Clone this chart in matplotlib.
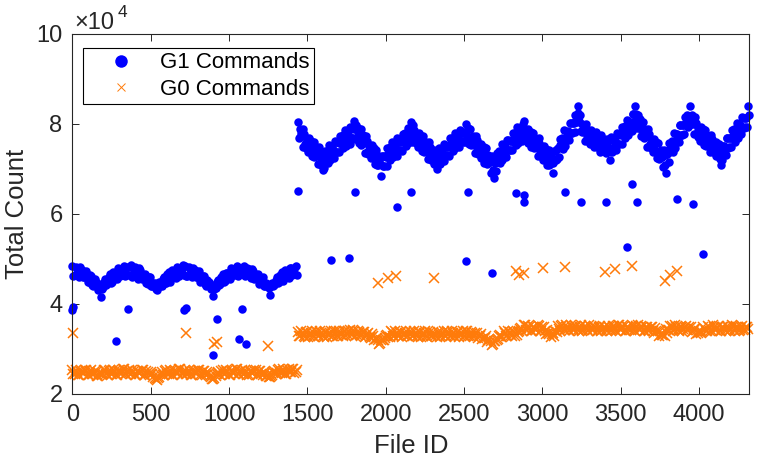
import numpy as np
import matplotlib
matplotlib.use('Agg')
import matplotlib.pyplot as plt
from matplotlib.lines import Line2D

# values are in units of 1e4 commands
# two interleaved sample sets per segment (a: on the grid, b: half a step later)
g1_low_ids = np.arange(0, 1440, 15)
g1_low = [4.85, 4.64, 4.77, 4.59, 4.76, 4.60, 4.74, 4.50, 4.62, 4.40, 4.50, 4.32,
          4.16, 4.37, 4.55, 4.46, 4.67, 4.50, 4.69, 4.55, 4.77, 4.66, 4.85, 4.66,
          4.65, 4.86, 4.66, 4.78, 4.56, 4.75, 4.58, 4.67, 4.45, 4.60, 4.39, 4.46,
          4.31, 4.48, 4.41, 4.60, 4.47, 4.72, 4.58, 4.74, 4.57, 4.81, 4.69, 4.86,
          4.85, 4.63, 4.77, 4.60, 4.76, 4.61, 4.73, 4.51, 4.63, 4.41, 4.49, 4.33,
          4.18, 4.36, 4.54, 4.45, 4.66, 4.51, 4.70, 4.56, 4.78, 4.65, 4.84, 4.67,
          4.66, 4.85, 4.67, 4.77, 4.57, 4.74, 4.59, 4.66, 4.46, 4.59, 4.40, 4.45,
          4.19, 4.47, 4.42, 4.59, 4.48, 4.71, 4.59, 4.74, 4.58, 4.80, 4.70, 4.85]
g1_low_b_ids = np.arange(7, 1440, 15)
g1_low_b = [4.63, 4.82, 4.68, 4.82, 4.60, 4.69, 4.48, 4.64, 4.43, 4.55, 4.40, 4.44,
            4.33, 4.49, 4.42, 4.61, 4.47, 4.71, 4.62, 4.80, 4.63, 4.77, 4.62, 4.82,
            4.82, 4.61, 4.82, 4.65, 4.79, 4.55, 4.64, 4.46, 4.59, 4.39, 4.47, 4.34,
            4.43, 4.39, 4.55, 4.46, 4.66, 4.50, 4.76, 4.63, 4.82, 4.63, 4.77, 4.64,
            4.62, 4.83, 4.67, 4.81, 4.61, 4.70, 4.49, 4.63, 4.44, 4.54, 4.41, 4.43,
            4.34, 4.48, 4.43, 4.60, 4.48, 4.70, 4.63, 4.79, 4.64, 4.76, 4.63, 4.81,
            4.81, 4.62, 4.81, 4.66, 4.78, 4.56, 4.65, 4.45, 4.58, 4.40, 4.46, 4.35,
            4.42, 4.40, 4.54, 4.47, 4.65, 4.51, 4.75, 4.64, 4.81, 4.64, 4.78, 4.65]

g1_high_ids = np.arange(1440, 4320, 10)
g1_high = [8.05, 7.72, 7.80, 7.50, 7.77, 7.46, 7.57, 7.68, 7.43, 7.28,
           7.61, 7.30, 7.40, 7.11, 7.40, 7.10, 6.97, 7.39, 7.22, 7.13,
           7.54, 7.30, 7.46, 7.25, 7.60, 7.38, 7.57, 7.74, 7.56, 7.47,
           7.87, 7.62, 7.78, 7.56, 7.91, 7.68, 8.07, 7.98, 7.73, 7.57,
           7.89, 7.57, 7.65, 7.36, 7.63, 7.33, 7.44, 7.53, 7.27, 7.11,
           7.43, 7.10, 7.18, 6.85, 7.28, 7.07, 7.27, 7.46, 7.30, 7.21,
           7.61, 7.36, 7.52, 7.30, 7.65, 7.42, 7.61, 7.78, 7.60, 7.51,
           7.92, 7.67, 8.04, 7.59, 7.87, 7.57, 7.69, 7.80, 7.55, 7.39,
           7.73, 7.41, 7.50, 7.22, 7.50, 7.20, 7.32, 7.42, 7.17, 7.00,
           7.46, 7.22, 7.39, 7.18, 7.54, 7.31, 7.50, 7.68, 7.50, 7.41,
           7.81, 7.55, 7.71, 7.49, 7.84, 7.60, 7.79, 8.00, 7.73, 7.56,
           7.89, 7.56, 7.65, 7.36, 7.64, 7.33, 7.45, 7.55, 7.30, 7.13,
           7.46, 7.13, 7.22, 6.92, 7.20, 6.81, 7.16, 7.36, 7.20, 7.13,
           7.55, 7.31, 7.48, 7.27, 7.64, 7.42, 7.62, 7.79, 7.61, 7.53,
           7.93, 7.68, 7.84, 7.63, 8.07, 7.66, 7.78, 7.89, 7.64, 7.48,
           7.81, 7.50, 7.59, 7.30, 7.58, 7.28, 7.40, 7.51, 7.26, 7.10,
           7.43, 7.11, 7.20, 6.91, 7.41, 7.23, 7.46, 7.66, 7.51, 7.45,
           7.87, 7.65, 7.84, 7.65, 8.02, 7.81, 8.02, 8.21, 8.05, 8.41,
           8.20, 7.82, 7.90, 7.62, 7.91, 7.62, 7.75, 7.86, 7.62, 7.48,
           7.83, 7.54, 7.65, 7.38, 7.68, 7.41, 7.55, 7.67, 7.45, 7.20,
           7.72, 7.47, 7.64, 7.43, 7.78, 7.56, 7.76, 7.94, 7.77, 7.69,
           8.10, 7.87, 8.05, 7.85, 8.22, 8.41, 8.11, 8.19, 7.92, 7.74,
           8.05, 7.72, 7.80, 7.50, 7.77, 7.46, 7.57, 7.66, 7.41, 7.25,
           7.57, 7.25, 7.34, 7.04, 7.32, 6.92, 7.36, 7.57, 7.43, 7.38,
           7.81, 7.59, 7.78, 7.59, 7.97, 7.76, 7.97, 8.16, 8.00, 7.93,
           8.41, 8.01, 8.08, 7.77, 8.03, 7.71, 7.83, 7.94, 7.69, 7.54,
           7.87, 7.56, 7.65, 7.37, 7.66, 7.37, 7.50, 7.61, 7.37, 7.22,
           7.08, 7.33, 7.51, 7.32, 7.69, 7.48, 7.68, 7.86, 7.69, 7.61,
           8.03, 7.79, 7.97, 7.77, 8.14, 7.93, 8.14, 8.40]
g1_high_b_ids = np.arange(1445, 4320, 10)
g1_high_b = [7.70, 7.90, 7.73, 7.88, 7.55, 7.67, 7.37, 7.56, 7.62, 7.39,
             7.26, 7.48, 7.33, 7.49, 7.18, 7.31, 7.02, 7.27, 7.41, 7.24,
             7.19, 7.48, 7.39, 7.63, 7.38, 7.59, 7.37, 7.62, 7.75, 7.58,
             7.52, 7.80, 7.71, 7.94, 7.69, 7.89, 7.67, 7.86, 7.92, 7.68,
             7.54, 7.75, 7.58, 7.74, 7.41, 7.54, 7.24, 7.41, 7.46, 7.22,
             7.08, 7.28, 7.11, 7.29, 7.06, 7.28, 7.07, 7.34, 7.49, 7.32,
             7.26, 7.54, 7.45, 7.68, 7.43, 7.63, 7.41, 7.66, 7.79, 7.62,
             7.57, 7.85, 7.76, 7.97, 7.65, 7.78, 7.49, 7.68, 7.74, 7.50,
             7.38, 7.59, 7.43, 7.60, 7.28, 7.41, 7.12, 7.30, 7.36, 7.15,
             7.11, 7.40, 7.32, 7.56, 7.32, 7.52, 7.30, 7.56, 7.69, 7.52,
             7.46, 7.73, 7.64, 7.87, 7.62, 7.81, 7.59, 7.83, 7.92, 7.67,
             7.54, 7.74, 7.58, 7.74, 7.42, 7.54, 7.25, 7.43, 7.49, 7.24,
             7.11, 7.31, 7.15, 7.30, 6.98, 7.14, 6.96, 7.24, 7.39, 7.24,
             7.20, 7.49, 7.41, 7.65, 7.42, 7.63, 7.42, 7.67, 7.80, 7.64,
             7.58, 7.86, 7.77, 8.01, 7.74, 7.87, 7.58, 7.77, 7.83, 7.59,
             7.46, 7.68, 7.52, 7.68, 7.36, 7.49, 7.20, 7.39, 7.45, 7.21,
             7.08, 7.29, 7.13, 7.40, 7.19, 7.44, 7.26, 7.54, 7.70, 7.56,
             7.52, 7.83, 7.77, 8.03, 7.80, 8.02, 7.82, 8.09, 8.24, 8.07,
             7.85, 8.00, 7.83, 8.00, 7.69, 7.83, 7.55, 7.74, 7.81, 7.59,
             7.48, 7.72, 7.58, 7.76, 7.46, 7.62, 7.35, 7.55, 7.64, 7.42,
             7.37, 7.65, 7.57, 7.81, 7.56, 7.77, 7.56, 7.82, 7.96, 7.80,
             7.75, 8.05, 7.98, 8.23, 8.00, 8.22, 7.91, 8.07, 8.11, 7.85,
             7.70, 7.90, 7.73, 7.88, 7.55, 7.67, 7.37, 7.54, 7.60, 7.36,
             7.22, 7.43, 7.27, 7.42, 7.10, 7.34, 7.16, 7.45, 7.62, 7.49,
             7.46, 7.77, 7.71, 7.97, 7.75, 7.97, 7.77, 8.04, 8.19, 8.04,
             8.00, 8.19, 8.01, 8.15, 7.81, 7.92, 7.63, 7.82, 7.88, 7.65,
             7.52, 7.74, 7.58, 7.75, 7.44, 7.58, 7.30, 7.49, 7.56, 7.33,
             7.21, 7.51, 7.44, 7.70, 7.47, 7.69, 7.48, 7.74, 7.88, 7.72,
             7.68, 7.97, 7.90, 8.15, 7.92, 8.14, 7.94, 8.19]

g1_out_ids = [0, 6, 279, 358, 712, 725, 900, 925, 1064, 1080, 1108, 1442, 1650,
              1764, 1804, 2070, 2161, 2510, 2522, 2678, 2831, 2882, 2882, 3145,
              3243, 3403, 3541, 3571, 3603, 3856, 3962, 4026]
g1_out = [3.87, 3.93, 3.18, 3.88, 3.87, 3.92, 2.87, 3.66, 3.22, 3.88, 3.11, 6.51,
          4.98, 5.02, 6.48, 6.16, 6.49, 4.96, 6.49, 4.68, 6.47, 6.42, 6.26, 6.48,
          6.26, 6.26, 5.26, 6.67, 6.26, 6.33, 6.23, 5.12]

g0_low_ids = np.arange(0, 1440, 15)
g0_low = [2.53, 2.44, 2.50, 2.42, 2.52, 2.46, 2.54, 2.43,
          2.53, 2.44, 2.49, 2.40, 2.45, 2.44, 2.53, 2.43,
          2.54, 2.45, 2.51, 2.42, 2.53, 2.47, 2.55, 2.44,
          2.54, 2.45, 2.50, 2.43, 2.52, 2.46, 2.54, 2.43,
          2.50, 2.42, 2.45, 2.36, 2.31, 2.38, 2.48, 2.42,
          2.53, 2.45, 2.51, 2.42, 2.52, 2.47, 2.55, 2.44,
          2.54, 2.45, 2.50, 2.43, 2.52, 2.46, 2.54, 2.43,
          2.51, 2.43, 2.47, 2.38, 2.33, 2.40, 2.49, 2.43,
          2.54, 2.45, 2.51, 2.42, 2.53, 2.47, 2.55, 2.44,
          2.54, 2.45, 2.50, 2.43, 2.52, 2.46, 2.54, 2.43,
          2.51, 2.42, 2.47, 2.39, 2.37, 2.43, 2.52, 2.46,
          2.55, 2.46, 2.52, 2.45, 2.55, 2.48, 2.56, 2.50]
g0_low_b_ids = np.arange(7, 1440, 15)
g0_low_b = [2.45, 2.53, 2.42, 2.51, 2.46, 2.54, 2.43, 2.52,
            2.44, 2.52, 2.41, 2.47, 2.42, 2.53, 2.44, 2.52,
            2.45, 2.53, 2.42, 2.51, 2.46, 2.55, 2.44, 2.52,
            2.45, 2.54, 2.42, 2.51, 2.46, 2.54, 2.43, 2.51,
            2.44, 2.48, 2.37, 2.33, 2.35, 2.44, 2.43, 2.52,
            2.45, 2.53, 2.42, 2.51, 2.46, 2.55, 2.44, 2.52,
            2.45, 2.53, 2.42, 2.51, 2.46, 2.54, 2.43, 2.51,
            2.44, 2.49, 2.40, 2.34, 2.36, 2.45, 2.44, 2.52,
            2.45, 2.53, 2.42, 2.51, 2.46, 2.55, 2.44, 2.52,
            2.45, 2.54, 2.42, 2.51, 2.46, 2.54, 2.43, 2.51,
            2.44, 2.49, 2.40, 2.38, 2.40, 2.50, 2.45, 2.53,
            2.47, 2.55, 2.44, 2.53, 2.48, 2.56, 2.46, 2.54]

g0_high_ids = np.arange(1440, 4320, 15)
g0_high = [3.38, 3.28, 3.36, 3.27, 3.37, 3.30, 3.39, 3.27,
           3.38, 3.28, 3.35, 3.26, 3.37, 3.31, 3.39, 3.28,
           3.39, 3.30, 3.37, 3.29, 3.40, 3.33, 3.42, 3.31,
           3.41, 3.32, 3.38, 3.28, 3.37, 3.30, 3.36, 3.25,
           3.30, 3.22, 3.20, 3.13, 3.19, 3.24, 3.32, 3.26,
           3.37, 3.29, 3.36, 3.28, 3.38, 3.31, 3.39, 3.28,
           3.38, 3.28, 3.35, 3.27, 3.37, 3.30, 3.39, 3.27,
           3.37, 3.28, 3.34, 3.26, 3.36, 3.30, 3.39, 3.28,
           3.38, 3.29, 3.35, 3.27, 3.38, 3.31, 3.40, 3.29,
           3.39, 3.30, 3.36, 3.27, 3.35, 3.28, 3.33, 3.24,
           3.28, 3.20, 3.18, 3.11, 3.17, 3.23, 3.31, 3.26,
           3.36, 3.29, 3.37, 3.30, 3.38, 3.31, 3.40,
           3.46, 3.53, 3.42, 3.51, 3.40, 3.50, 3.44, 3.53,
           3.41, 3.49, 3.40, 3.42, 3.34, 3.33, 3.29, 3.38,
           3.44, 3.52, 3.42, 3.53, 3.45, 3.54, 3.42, 3.52,
           3.43, 3.50, 3.41, 3.52, 3.45, 3.54, 3.42, 3.51,
           3.41, 3.49, 3.40, 3.48, 3.42, 3.52, 3.41, 3.51,
           3.43, 3.54, 3.44, 3.52, 3.41, 3.50, 3.43, 3.53,
           3.42, 3.51, 3.44, 3.52, 3.41, 3.49, 3.42, 3.50,
           3.40, 3.47, 3.39, 3.40, 3.32, 3.29, 3.35, 3.43,
           3.51, 3.42, 3.50, 3.41, 3.51, 3.44, 3.52, 3.42,
           3.49, 3.40, 3.44, 3.36, 3.38, 3.37, 3.45, 3.40,
           3.49, 3.41, 3.50, 3.43, 3.51, 3.41, 3.49, 3.40,
           3.48, 3.42, 3.51, 3.41, 3.50, 3.43, 3.52, 3.42,
           3.49]
g0_high_b_ids = np.arange(1447, 4320, 15)
g0_high_b = [3.28, 3.39, 3.30, 3.38, 3.27, 3.36, 3.29, 3.40,
             3.28, 3.39, 3.30, 3.38, 3.27, 3.36, 3.30, 3.41,
             3.29, 3.40, 3.32, 3.40, 3.30, 3.39, 3.33, 3.42,
             3.30, 3.40, 3.31, 3.38, 3.27, 3.34, 3.27, 3.33,
             3.20, 3.25, 3.12, 3.20, 3.20, 3.30, 3.27, 3.39,
             3.28, 3.39, 3.30, 3.38, 3.27, 3.36, 3.29, 3.40,
             3.28, 3.39, 3.30, 3.38, 3.27, 3.36, 3.29, 3.40,
             3.28, 3.38, 3.30, 3.38, 3.27, 3.36, 3.29, 3.40,
             3.28, 3.39, 3.30, 3.38, 3.27, 3.36, 3.29, 3.40,
             3.28, 3.38, 3.29, 3.36, 3.25, 3.30, 3.22, 3.24,
             3.15, 3.22, 3.10, 3.18, 3.20, 3.30, 3.27, 3.39,
             3.29, 3.39, 3.31, 3.39, 3.28, 3.37,
             3.45, 3.41, 3.53, 3.43, 3.50, 3.40, 3.49, 3.42,
             3.51, 3.41, 3.48, 3.33, 3.36, 3.27, 3.35, 3.40,
             3.51, 3.41, 3.53, 3.43, 3.50, 3.40, 3.49, 3.42,
             3.51, 3.41, 3.53, 3.43, 3.50, 3.40, 3.49, 3.42,
             3.50, 3.40, 3.52, 3.42, 3.49, 3.40, 3.49, 3.42,
             3.51, 3.41, 3.53, 3.43, 3.50, 3.40, 3.49, 3.42,
             3.51, 3.41, 3.53, 3.43, 3.50, 3.40, 3.48, 3.41,
             3.49, 3.36, 3.41, 3.28, 3.34, 3.32, 3.45, 3.42,
             3.51, 3.41, 3.53, 3.43, 3.50, 3.40, 3.49, 3.42,
             3.48, 3.37, 3.44, 3.33, 3.40, 3.36, 3.48, 3.41,
             3.51, 3.41, 3.53, 3.43, 3.50, 3.40, 3.49, 3.42,
             3.51, 3.41, 3.53, 3.43, 3.50, 3.40, 3.49, 3.42,
             3.50, 3.44]

g0_out_ids = [2, 725, 904, 921, 1251, 1953, 2012, 2065, 2308, 2831, 2852, 2882,
              3005, 3145, 3400, 3464, 3572, 3779, 3817, 3856]
g0_out = [3.35, 3.35, 3.11, 3.16, 3.07, 4.46, 4.57, 4.62, 4.57, 4.74, 4.64, 4.70,
          4.79, 4.82, 4.72, 4.77, 4.84, 4.51, 4.64, 4.74]

plt.rcParams['font.family'] = ['Liberation Sans', 'DejaVu Sans']
tc = '#262626'
blue = '#0000ff'
orange = '#ff7b0a'

W, H = 757, 468
fig = plt.figure(figsize=(W / 100, H / 100), dpi=100)
ax = fig.add_axes([72.3 / W, 1 - 394 / H, (749.3 - 72.3) / W, (394 - 34) / H])

g1_x = np.concatenate([g1_low_ids, g1_low_b_ids, g1_high_ids, g1_high_b_ids, g1_out_ids])
g1_y = np.concatenate([g1_low, g1_low_b, g1_high, g1_high_b, g1_out])
g0_x = np.concatenate([g0_low_ids, g0_low_b_ids, g0_high_ids, g0_high_b_ids, g0_out_ids])
g0_y = np.concatenate([g0_low, g0_low_b, g0_high, g0_high_b, g0_out])

ax.plot(g1_x, g1_y, 'o', ls='none', color=blue, ms=6.1, mew=0, clip_on=False)
ax.plot(g0_x, g0_y, 'x', ls='none', color=orange, ms=7.2, mew=1.1, clip_on=False)

ax.set_xlim(0, 4320)
ax.set_ylim(2, 10)
ax.set_xticks(np.arange(0, 4001, 500))
ax.set_yticks([2, 4, 6, 8, 10])
ax.set_yticklabels(['2', '4', '6', '8', '10'])
ax.tick_params(direction='in', top=True, right=True, length=5, width=0.7,
               colors=tc, labelsize=17, pad=7)
for s in ax.spines.values():
    s.set_color(tc)
    s.set_linewidth(0.8)

ax.set_xlabel('File ID', fontsize=18.5, color=tc, labelpad=6)
ax.set_ylabel('Total Count', fontsize=18.5, color=tc, labelpad=5)

fig.text(74 / W, 1 - 29 / H, '\u00d710', fontsize=17, color=tc, va='baseline')
fig.text(118 / W, 1 - 17 / H, '4', fontsize=12.5, color=tc, va='baseline')

handles = [Line2D([], [], marker='o', ls='none', color=blue, ms=9, mew=0),
           Line2D([], [], marker='x', ls='none', color=orange, ms=6, mew=0.7)]
leg = ax.legend(handles, ['G1 Commands', 'G0 Commands'], loc='upper left',
                bbox_to_anchor=(83 / W, 1 - 48 / H), bbox_transform=fig.transFigure,
                borderaxespad=0, fontsize=16, fancybox=False, framealpha=1,
                edgecolor='black', handlelength=3.0, handletextpad=0.25,
                labelspacing=0.25, borderpad=0.2)
leg.get_frame().set_linewidth(0.8)

fig.savefig('out.png', dpi=100)
